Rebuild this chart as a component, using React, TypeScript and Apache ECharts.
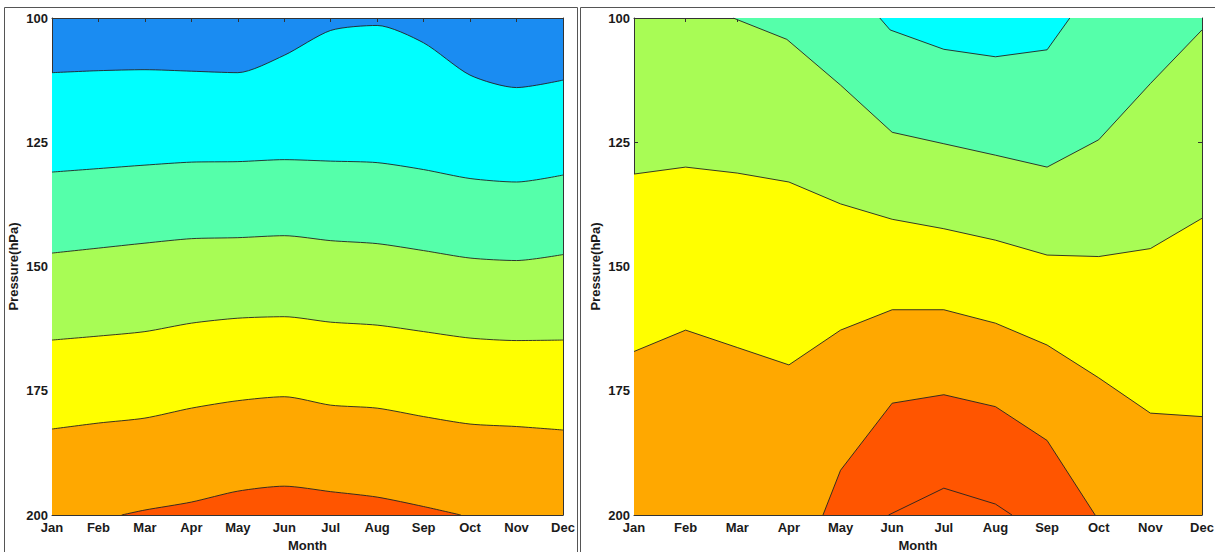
import React, { useEffect, useRef } from "react";
import * as echarts from "echarts";

// Month axis labels and pressure ticks (hPa)
const months = ["Jan", "Feb", "Mar", "Apr", "May", "Jun", "Jul", "Aug", "Sep", "Oct", "Nov", "Dec"];
const pressureMin = 100;
const pressureMax = 200;
const pressureStep = 25;

// Left panel: contour boundaries, pressure of each level per month
const leftBlueCyan = [111, 110.6, 110.4, 110.7, 111, 107.5, 102.5, 101.5, 105, 111.5, 114, 112.5];
const leftCyanAqua = [131, 130.3, 129.6, 129, 128.9, 128.5, 128.8, 129.1, 130.5, 132.3, 133, 131.6];
const leftAquaGreen = [147.3, 146.3, 145.3, 144.4, 144.2, 143.8, 144.8, 145.4, 146.8, 148.3, 148.8, 147.6];
const leftGreenYellow = [164.8, 164, 163.1, 161.4, 160.4, 160.1, 161.2, 161.8, 163.1, 164.4, 164.9, 164.8];
const leftYellowOrange = [182.7, 181.5, 180.5, 178.5, 177, 176.2, 177.9, 178.5, 180.2, 181.7, 182.2, 182.9];
// partial contour: [month index, pressure]
const leftOrangeRed = [[1.5, 200], [2, 199], [3, 197.4], [4, 195.2], [5, 194.2], [6, 195.3], [7, 196.4], [8, 198.3], [8.8, 200]];

// Right panel contours
const rightCyanBlob = [[4.76, 100], [4.96, 102.4], [6, 106.3], [7, 107.8], [8, 106.4], [8.44, 100]];
const rightAquaGreen = [[1.92, 100], [2.96, 104.3], [4, 113.5], [5, 123], [6, 125.3], [7, 127.6], [8, 130], [9, 124.5], [10, 113.2], [11, 102.4]];
const rightGreenYellow = [131.4, 130, 131.2, 133, 137.4, 140.5, 142.4, 144.7, 147.7, 148, 146.4, 140.3];
const rightYellowOrange = [167.1, 162.8, 166.3, 169.8, 162.8, 158.7, 158.7, 161.4, 165.8, 172.4, 179.5, 180.2];
const rightOrangeRed = [[3.66, 200], [4, 191], [5, 177.5], [6, 175.8], [7, 178.2], [8, 185], [8.93, 200]];
const rightInnerRed = [[4.93, 200], [6, 194.6], [7, 197.8], [7.32, 200]];

const COLORS = {
  blue: "#1a8cf2",
  cyan: "#00ffff",
  aqua: "#55ffaa",
  green: "#a8fc55",
  yellow: "#ffff00",
  orange: "#ffa800",
  red: "#ff5500",
};

const FONT = "'Liberation Sans', Arial, sans-serif";
const AXIS_COLOR = "#333";
const TEXT_COLOR = "#1a1a1a";

const perMonth = (vals: number[]) => vals.map((p, i) => [i, p]);

function contour(
  data: number[][],
  fill: string | null,
  origin: "start" | "end",
  axisIndex: number,
  smooth: number | boolean
) {
  return {
    type: "line",
    xAxisIndex: axisIndex,
    yAxisIndex: axisIndex,
    data,
    smooth,
    showSymbol: false,
    symbol: "none",
    silent: true,
    lineStyle: { color: "#222", width: 0.9 },
    areaStyle: fill ? { color: fill, opacity: 1, origin } : undefined,
  };
}

function xAxes(gridIndex: number) {
  const common = {
    type: "value",
    gridIndex,
    min: 0,
    max: 11,
    interval: 1,
    axisLine: { show: true, onZero: false, lineStyle: { color: AXIS_COLOR, width: 1 } },
    axisTick: { show: true, inside: true, length: 4, lineStyle: { color: AXIS_COLOR } },
    splitLine: { show: false },
  };
  return [
    {
      ...common,
      position: "bottom",
      name: "Month",
      nameLocation: "middle",
      nameGap: 23,
      nameTextStyle: { fontFamily: FONT, fontWeight: "bold", fontSize: 13, color: TEXT_COLOR },
      axisLabel: {
        show: true,
        margin: 6,
        fontFamily: FONT,
        fontWeight: "bold",
        fontSize: 13,
        color: TEXT_COLOR,
        formatter: (v: number) => months[v] ?? "",
      },
    },
    { ...common, position: "top", axisLabel: { show: false } },
  ];
}

function yAxes(gridIndex: number) {
  const common = {
    type: "value",
    gridIndex,
    min: pressureMin,
    max: pressureMax,
    interval: pressureStep,
    inverse: true,
    axisLine: { show: true, onZero: false, lineStyle: { color: AXIS_COLOR, width: 1 } },
    axisTick: { show: true, inside: true, length: 4, lineStyle: { color: AXIS_COLOR } },
    splitLine: { show: false },
  };
  return [
    {
      ...common,
      position: "left",
      name: "Pressure(hPa)",
      nameLocation: "middle",
      nameRotate: 90,
      nameGap: 32,
      nameTextStyle: { fontFamily: FONT, fontWeight: "bold", fontSize: 13, color: TEXT_COLOR },
      axisLabel: {
        show: true,
        margin: 4,
        fontFamily: FONT,
        fontWeight: "bold",
        fontSize: 13,
        color: TEXT_COLOR,
      },
    },
    { ...common, position: "right", axisLabel: { show: false } },
  ];
}

export default function App() {
  const ref = useRef<HTMLDivElement>(null);

  useEffect(() => {
    if (!ref.current) return;
    const chart = echarts.init(ref.current, undefined, { renderer: "svg" });

    const leftSmooth = 0.25;
    const gridBase = { top: 18, height: 497, show: true, borderWidth: 0, containLabel: false, outerBoundsMode: "none" };
    const option = {
      animation: false,
      backgroundColor: "#ffffff",
      grid: [
        { ...gridBase, left: 52, width: 511, backgroundColor: COLORS.blue },
        { ...gridBase, left: 634, width: 568, backgroundColor: COLORS.green },
      ],
      xAxis: [...xAxes(0), ...xAxes(1)],
      yAxis: [...yAxes(0), ...yAxes(1)],
      graphic: [
        {
          type: "rect",
          shape: { x: 4.5, y: 7.5, width: 573, height: 560 },
          style: { fill: "none", stroke: "#555", lineWidth: 1 },
          silent: true,
        },
        {
          type: "rect",
          shape: { x: 580.5, y: 7.5, width: 650, height: 560 },
          style: { fill: "none", stroke: "#555", lineWidth: 1 },
          silent: true,
        },
      ],
      series: [
        // left panel: each level fills downward to 200 hPa
        contour(perMonth(leftBlueCyan), COLORS.cyan, "end", 0, leftSmooth),
        contour(perMonth(leftCyanAqua), COLORS.aqua, "end", 0, leftSmooth),
        contour(perMonth(leftAquaGreen), COLORS.green, "end", 0, leftSmooth),
        contour(perMonth(leftGreenYellow), COLORS.yellow, "end", 0, leftSmooth),
        contour(perMonth(leftYellowOrange), COLORS.orange, "end", 0, leftSmooth),
        contour(leftOrangeRed, COLORS.red, "end", 0, leftSmooth),
        // right panel: upper regions fill up to 100 hPa, lower ones down to 200 hPa
        contour(rightAquaGreen, COLORS.aqua, "start", 2, false),
        contour(rightCyanBlob, COLORS.cyan, "start", 2, false),
        contour(perMonth(rightGreenYellow), COLORS.yellow, "end", 2, false),
        contour(perMonth(rightYellowOrange), COLORS.orange, "end", 2, false),
        contour(rightOrangeRed, COLORS.red, "end", 2, false),
        contour(rightInnerRed, null, "end", 2, false),
      ],
    };

    chart.setOption(option as any);
    return () => chart.dispose();
  }, []);

  return (
    <div
      ref={ref}
      style={{ position: "absolute", left: 0, top: 0, width: 1215, height: 552, background: "#fff" }}
    />
  );
}
